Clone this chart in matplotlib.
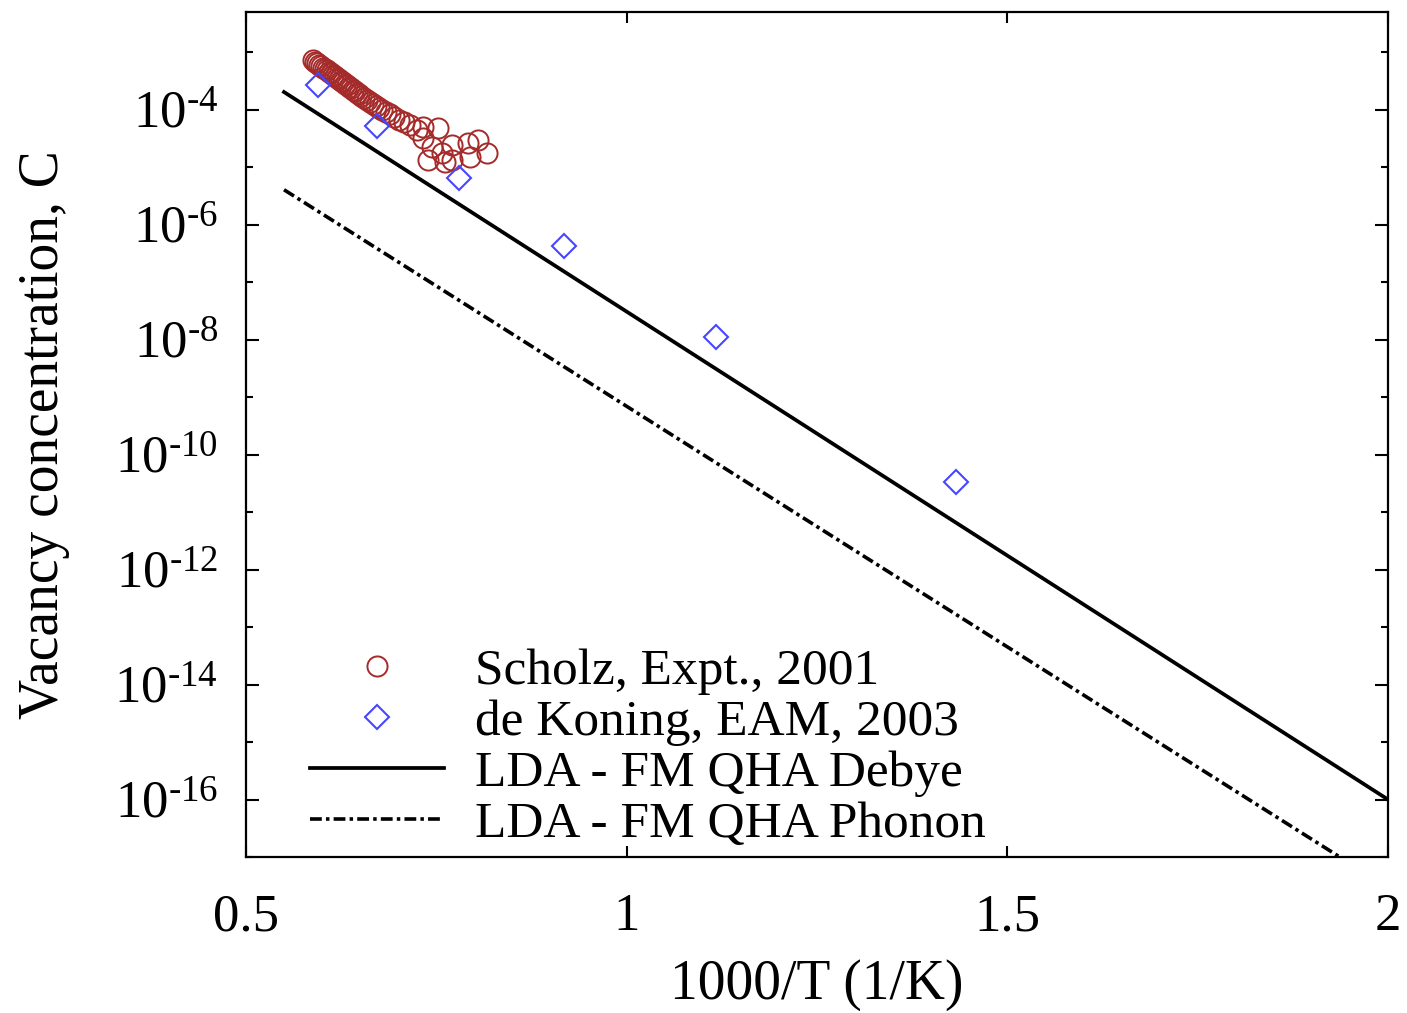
import numpy as np
import matplotlib
matplotlib.use("Agg")
import matplotlib.pyplot as plt
from matplotlib.ticker import FixedLocator, NullFormatter, FuncFormatter

plt.rcParams['font.family'] = ['Liberation Serif', 'DejaVu Serif']
plt.rcParams['mathtext.fontset'] = 'custom'
plt.rcParams['mathtext.rm'] = 'Liberation Serif'
plt.rcParams['mathtext.it'] = 'Liberation Serif:italic'
plt.rcParams['lines.scale_dashes'] = False

# Scholz, Expt., 2001  (1000/T, log10 C)
scholz_x = [0.588, 0.5907, 0.5933, 0.5959, 0.5986, 0.6012, 0.6038, 0.6064, 0.6091, 0.6117,
            0.6143, 0.6170, 0.6196, 0.6222, 0.6248, 0.6275, 0.6301, 0.6327, 0.6353, 0.6380,
            0.6406, 0.6432, 0.6459, 0.6485, 0.6511, 0.6550, 0.6590, 0.6629, 0.6669, 0.6708,
            0.6748, 0.6787, 0.6840, 0.6892, 0.6945, 0.7011, 0.7076, 0.7155,
            0.7247, 0.7326, 0.7523, 0.7326, 0.7444, 0.7576, 0.7707, 0.7707, 0.7917,
            0.8049, 0.8167, 0.7943, 0.7392, 0.7615]
scholz_logc = [-3.130, -3.165, -3.183, -3.217, -3.235, -3.270, -3.287, -3.304, -3.339, -3.357,
               -3.391, -3.409, -3.443, -3.461, -3.496, -3.513, -3.548, -3.565, -3.600, -3.617,
               -3.652, -3.670, -3.704, -3.722, -3.757, -3.791, -3.826, -3.861, -3.896, -3.930,
               -3.965, -4.000, -4.035, -4.070, -4.122, -4.174, -4.209, -4.261,
               -4.348, -4.296, -4.313, -4.487, -4.643, -4.748, -4.870, -4.609, -4.574,
               -4.522, -4.748, -4.817, -4.870, -4.904]

# de Koning, EAM, 2003
dekoning_x = [0.5946, 0.672, 0.780, 0.918, 1.118, 1.433]
dekoning_logc = [-3.565, -4.278, -5.18, -6.365, -7.95, -10.47]

# LDA - FM QHA Debye
debye_x = [0.55, 2.0]
debye_logc = [-3.69, -16.0]

# LDA - FM QHA Phonon
phonon_x = [0.55, 2.0]
phonon_logc = [-5.39, -17.53]

fig = plt.figure(figsize=(14.07, 10.13), dpi=100)
ax = fig.add_axes([0.1748, 0.154, 0.8117, 0.834])

ax.plot(scholz_x, 10.0 ** np.array(scholz_logc), linestyle='none', marker='o',
        markersize=14.5, markerfacecolor='none', markeredgecolor='#a52a2a',
        markeredgewidth=1.4, label='Scholz, Expt., 2001')
ax.plot(dekoning_x, 10.0 ** np.array(dekoning_logc), linestyle='none', marker='D',
        markersize=12.5, markerfacecolor='none', markeredgecolor='#4646ff',
        markeredgewidth=1.5, label='de Koning, EAM, 2003')
ax.plot(debye_x, 10.0 ** np.array(debye_logc), color='black', linewidth=2.7,
        label='LDA - FM QHA Debye')
ax.plot(phonon_x, 10.0 ** np.array(phonon_logc), color='black', linewidth=2.6,
        dashes=(8.5, 3, 2.5, 3), label='LDA - FM QHA Phonon')

ax.set_yscale('log')
ax.set_xlim(0.5, 2.0)
ax.set_ylim(1e-17, 10 ** -2.3)

ax.yaxis.set_major_locator(FixedLocator([10.0 ** e for e in range(-16, -3, 2)]))
ax.yaxis.set_minor_locator(FixedLocator([10.0 ** e for e in range(-17, -2, 2)]))
ax.yaxis.set_minor_formatter(NullFormatter())
ax.yaxis.set_major_formatter(FuncFormatter(
    lambda v, p: '$\\mathregular{10^{\u2010%d}}$' % abs(int(round(np.log10(v))))))

ax.set_xticks([0.5, 1.0, 1.5, 2.0])
ax.set_xticklabels(['0.5', '1', '1.5', '2'])
ax.xaxis.set_minor_locator(FixedLocator([]))

ax.tick_params(axis='both', which='both', direction='in', top=True, right=True,
               labelsize=38, width=1.5)
ax.tick_params(axis='y', which='major', length=9.5, pad=20)
ax.tick_params(axis='y', which='minor', length=5)
ax.tick_params(axis='x', which='major', length=8, pad=26)

for s in ax.spines.values():
    s.set_linewidth(1.6)

ax.set_xlabel('1000/T (1/K)', fontsize=40, labelpad=13)
ax.set_ylabel('Vacancy concentration, C', fontsize=40, labelpad=32)

leg = ax.legend(loc='lower left', bbox_to_anchor=(0.0205, -0.038), frameon=False,
                fontsize=37, handlelength=2.6, handletextpad=0.6,
                labelspacing=0.08, borderpad=0.3)

fig.savefig('out.png', dpi=100)
